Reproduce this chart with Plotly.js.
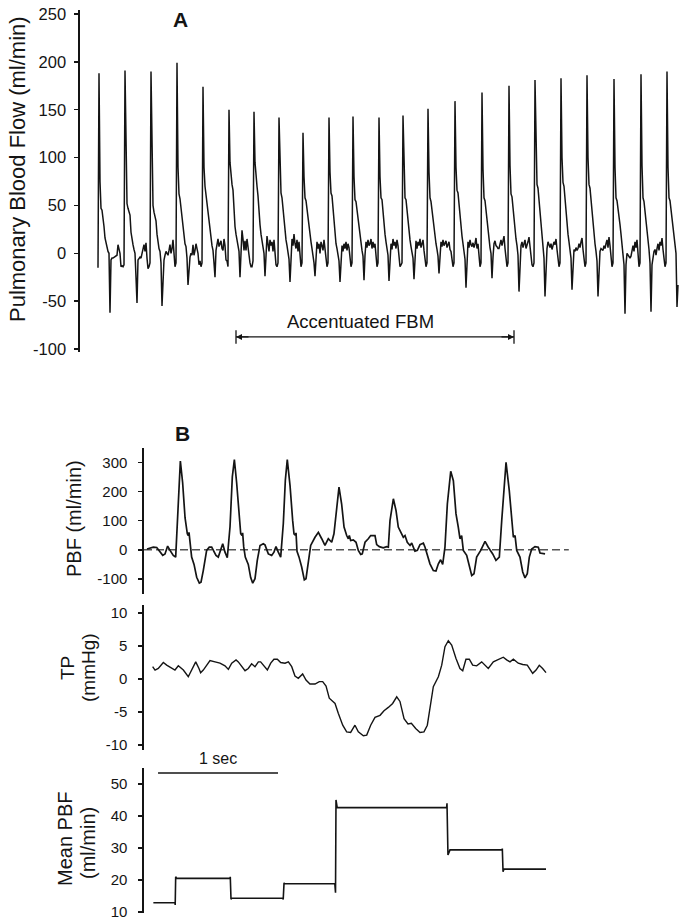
<!DOCTYPE html>
<html><head><meta charset="utf-8">
<script src="https://cdn.plot.ly/plotly-3.0.1.min.js"></script>
<style>html,body{margin:0;padding:0;background:#fff}#chart{width:685px;height:921px}</style>
</head><body><div id="chart"></div>
<script>
// ---------- Panel A: pulmonary blood flow, one sample per step ----------
const aSampleSec = 0.0175;
const aFlow = [-15,
 188,75,47,45,38,28,16,10,6,2,0,-62,-7,-5,-5,-4,-4,-3,-2,9,2,0,-14,-13,-14,-12,
 191,80,52,47,43,40,22,12,9,4,0,-25,-52,-7,-5,-4,-5,0,4,9,2,11,-5,-16,-14,-10,
 190,80,50,43,38,34,20,9,5,2,-10,-55,-20,-7,-2,2,0,-2,3,9,0,5,14,0,-14,-10,
 199,90,62,57,48,40,29,18,10,7,-5,-33,-10,-4,0,-2,9,-2,3,10,5,0,-12,-8,-14,-10,
 174,90,70,62,55,45,38,25,17,8,3,-10,-25,3,10,15,7,10,13,5,3,15,8,-7,-8,-14,
 150,95,80,72,66,40,28,20,14,6,2,-25,3,24,15,3,13,3,15,6,-4,-10,-14,-14,-8,
 148,95,76,70,60,42,30,20,12,5,0,-24,0,18,10,2,14,8,12,2,14,-2,-12,-14,-10,
 142,85,63,58,45,32,22,14,8,2,-6,-30,-2,15,8,20,10,5,14,2,12,-4,-14,-10,
 126,80,58,55,45,35,25,18,12,5,-2,-10,-24,0,12,5,10,0,12,8,3,14,6,-5,-14,-10,
 142,85,63,60,45,30,20,10,5,-2,-8,-30,-5,8,2,10,5,12,3,10,6,-5,-14,-10,
 143,80,56,54,45,35,25,18,10,3,-3,-28,-2,12,6,14,8,10,15,5,12,6,10,-5,-14,-10,
 142,80,58,56,42,30,20,12,5,-2,-29,-5,10,4,15,8,12,5,14,8,-3,-14,-12,-10,
 144,82,58,56,44,32,22,14,7,2,-5,-27,0,13,5,12,8,15,6,10,14,3,-6,-14,-10,
 151,85,58,54,44,34,25,17,10,4,-3,-21,0,12,7,14,8,10,13,6,9,12,4,2,-6,-14,-10,
 159,90,66,63,50,38,26,18,10,4,-6,-36,-4,12,6,14,9,7,11,6,10,16,5,10,-2,-14,-10,
 168,88,58,55,45,33,22,14,6,0,-26,-4,10,13,8,7,5,5,9,14,8,12,18,5,-4,-14,-10,
 175,92,62,59,46,35,24,15,8,-2,-40,-5,8,12,6,10,14,5,8,12,17,6,-2,-12,-14,-10,
 181,100,72,68,55,40,28,17,8,-5,-45,-8,5,12,8,6,10,4,8,12,9,15,4,-8,-14,-10,
 183,100,74,70,56,42,30,20,12,4,-5,-38,-8,4,2,6,3,5,10,6,12,16,4,-6,-14,-10,
 186,100,72,68,55,42,30,20,10,2,-8,-45,-10,2,5,4,3,8,5,10,14,6,17,8,-5,-14,-10,
 182,90,58,55,48,40,30,20,10,0,-12,-63,-12,0,-2,-4,-5,-3,5,8,2,12,6,14,0,-14,-10,
 187,92,58,54,45,35,24,14,4,-10,-61,-12,-4,2,4,-2,5,10,3,12,8,16,4,-5,-14,-10,
 190,90,58,55,45,38,30,20,10,0,-56,-33
];
const aTickVals = [-100,-50,0,50,100,150,200,250];
const aTickText = ['-100','-50','0','50','100','150','200','250'];
const fbmStartSample = 138, fbmEndSample = 416; // Accentuated FBM period
const fbmLabelSample = 262;

// ---------- Panel B ----------
const pbfT = [0.025,0.078,0.106,0.133,0.156,0.175,0.197,0.217,0.244,0.264,
 0.281,0.303,0.322,0.342,0.361,0.369,0.375,0.383,0.397,0.417,
 0.439,0.461,0.475,0.494,0.522,0.544,0.564,0.600,0.619,0.656,
 0.675,0.694,0.717,0.736,0.753,0.772,0.794,0.806,0.817,0.822,
 0.831,0.844,0.869,0.889,0.906,0.925,0.944,0.967,0.994,1.008,
 1.036,1.064,1.083,1.100,1.119,1.139,1.161,1.178,1.194,1.217,
 1.239,1.250,1.261,1.267,1.275,1.292,1.314,1.336,1.350,1.369,
 1.389,1.425,1.453,1.481,1.508,1.536,1.564,1.583,1.606,1.625,
 1.647,1.667,1.689,1.703,1.711,1.722,1.744,1.767,1.786,1.806,
 1.819,1.842,1.869,1.889,1.925,1.939,1.961,1.994,2.022,2.036,
 2.050,2.078,2.100,2.119,2.147,2.161,2.175,2.194,2.217,2.231,
 2.258,2.278,2.300,2.328,2.342,2.361,2.383,2.411,2.433,2.453,
 2.472,2.489,2.508,2.528,2.556,2.578,2.600,2.619,2.633,2.647,
 2.661,2.689,2.711,2.731,2.750,2.772,2.806,2.842,2.869,2.906,
 2.933,2.961,2.981,3.017,3.044,3.064,3.078,3.092,3.106,3.133,
 3.156,3.175,3.194,3.211,3.231,3.258,3.286,3.300,3.342];
const pbfV = [3,9,8,-8,-19,-14,13,-2,-19,-25,
 100,304,230,110,55,49,60,20,-25,-50,
 -94,-114,-111,-71,-2,9,9,-19,-25,21,
 -8,-27,80,250,309,230,110,55,49,58,
 10,-25,-50,-95,-114,-99,-36,15,21,17,
 -14,-19,-8,11,-8,-25,90,240,309,220,
 100,55,50,58,-5,-25,-59,-103,-99,-48,
 15,43,60,38,15,38,26,55,150,215,
 157,78,49,38,49,32,34,26,-2,-16,
 -14,26,38,49,49,18,11,7,11,9,
 100,175,135,78,55,43,49,26,15,23,
 -5,-2,18,23,9,-19,-48,-71,-73,-48,
 -34,-50,9,158,269,237,123,78,38,49,
 -2,-19,-59,-88,-82,-25,-2,29,9,-14,
 -36,-25,100,300,203,100,43,49,-2,-25,
 -76,-96,-82,-25,3,11,9,-11,-14];
const pbfZeroT = [0, 3.54];
const pbfZeroV = [0, 0];
const pbfTickVals = [-100,0,100,200,300];
const pbfTickText = ['-100','0','100','200','300'];

const tpT = [0.072,0.092,0.119,0.161,0.189,0.231,0.258,0.286,0.328,0.369,
 0.397,0.431,0.458,0.472,0.494,0.522,0.550,0.592,0.633,0.675,
 0.703,0.731,0.767,0.786,0.814,0.842,0.869,0.897,0.925,0.953,
 0.972,1.000,1.028,1.056,1.083,1.111,1.139,1.175,1.203,1.231,
 1.258,1.286,1.322,1.350,1.383,1.425,1.461,1.489,1.517,1.544,
 1.592,1.619,1.656,1.689,1.722,1.758,1.786,1.828,1.856,1.889,
 1.925,1.967,2.000,2.036,2.072,2.106,2.133,2.167,2.200,2.228,
 2.264,2.300,2.333,2.361,2.383,2.411,2.453,2.481,2.508,2.536,
 2.564,2.600,2.633,2.656,2.683,2.711,2.739,2.772,2.814,2.842,
 2.869,2.911,2.953,2.994,3.022,3.050,3.078,3.119,3.156,3.194,
 3.239,3.267,3.294,3.322,3.350];
const tpV = [1.87,1.36,1.6,2.5,2.1,1.6,1.36,2.0,1.36,0.35,
 1.36,2.6,1.6,0.96,1.36,2.1,2.8,2.6,2.4,2.0,
 1.46,2.4,2.9,2.6,1.87,1.26,1.6,2.3,1.87,2.6,
 2.6,2.0,1.36,2.4,3.0,3.0,2.5,2.4,2.6,1.87,
 0.45,0.1,0.76,-0.15,-0.76,-0.76,-0.4,-0.4,-1.06,-2.9,
 -3.7,-5.2,-7.0,-8.0,-8.1,-7.0,-8.0,-8.6,-8.5,-7.0,
 -5.8,-5.5,-4.8,-4.3,-3.7,-2.7,-3.4,-6.0,-6.8,-6.7,
 -7.5,-8.1,-8.0,-7.0,-4.2,-1.16,0.35,2.1,4.9,5.8,
 5.15,3.1,1.6,1.26,3.0,3.0,2.1,2.0,2.6,2.1,
 1.6,2.6,3.0,3.3,2.9,2.6,3.0,2.4,2.2,2.1,
 0.86,1.36,2.07,1.6,0.96];
const tpTickVals = [-10,-5,0,5,10];
const tpTickText = ['-10','-5','0','5','10'];

const meanT = [0.078,0.258,0.260,0.264,0.272,0.717,0.719,0.725,0.731,1.158,1.160,1.167,1.172,
 1.590,1.596,1.600,1.610,2.522,2.525,2.533,2.550,2.983,2.986,2.992,3.000,3.350];
const meanV = [12.9,12.9,12.2,21.0,20.5,20.5,21.0,14.0,14.3,14.3,13.9,19.1,18.8,
 18.8,16.0,45.0,42.6,42.6,44.0,27.8,29.4,29.4,29.8,22.6,23.4,23.4];
const meanTickVals = [10,20,30,40,50];
const meanTickText = ['10','20','30','40','50'];

const scaleBarSec = [0.117, 1.117];

// ---------- drawing ----------
const W = 685, H = 921;
const FONT = 'Liberation Sans, Arial, Helvetica, sans-serif';
const INK = '#141414';
const aTime = aFlow.map((v, i) => i * aSampleSec);
const py = p => 1 - p / H;   // pixel row -> paper fraction
const px = p => p / W;

const traces = [
  {x: aTime, y: aFlow, xaxis: 'x', yaxis: 'y', mode: 'lines', line: {color: INK, width: 1.5}, hoverinfo: 'skip'},
  {x: pbfZeroT, y: pbfZeroV, xaxis: 'x2', yaxis: 'y2', mode: 'lines', line: {color: '#555', width: 1.5, dash: '8px,4px'}, hoverinfo: 'skip'},
  {x: pbfT, y: pbfV, xaxis: 'x2', yaxis: 'y2', mode: 'lines', line: {color: INK, width: 1.7}, hoverinfo: 'skip'},
  {x: tpT, y: tpV, xaxis: 'x2', yaxis: 'y3', mode: 'lines', line: {color: INK, width: 1.4}, hoverinfo: 'skip'},
  {x: meanT, y: meanV, xaxis: 'x2', yaxis: 'y4', mode: 'lines', line: {color: INK, width: 1.6}, hoverinfo: 'skip'}
];

function yAxis(domain, range, vals, text, size, standoff) {
  return {domain: domain, range: range, tickmode: 'array', tickvals: vals, ticktext: text,
    showline: true, linecolor: INK, linewidth: 1.6, ticks: 'outside', ticklen: 4, tickwidth: 1.4, tickcolor: INK,
    showgrid: false, zeroline: false, fixedrange: true, ticklabelstandoff: standoff,
    tickfont: {family: FONT, size: size, color: INK}};
}

function label(text, x, y, size, angle) {
  return {text: text, xref: 'paper', yref: 'paper', x: x, y: y, xanchor: 'center', yanchor: 'middle',
    textangle: angle || 0, showarrow: false, font: {size: size, family: FONT, color: INK}};
}

const layout = {
  width: W, height: H, margin: {l: 0, r: 0, t: 0, b: 0},
  paper_bgcolor: '#fff', plot_bgcolor: 'rgba(0,0,0,0)', showlegend: false,
  font: {family: FONT, color: INK},
  xaxis: {domain: [px(80), px(682)], range: [-18 * aSampleSec, 584 * aSampleSec], visible: false, anchor: 'y'},
  yaxis: Object.assign(yAxis([py(351.9), py(10.2)], [-103, 254], aTickVals, aTickText, 16.5, 5), {anchor: 'x'}),
  xaxis2: {domain: [px(144), px(575)], range: [0, 3.5917], visible: false, anchor: 'y2'},
  yaxis2: Object.assign(yAxis([py(593.6), py(447.7)], [-150, 350], pbfTickVals, pbfTickText, 15, 8), {anchor: 'x2'}),
  yaxis3: Object.assign(yAxis([py(750.3), py(605.1)], [-10.8, 11.2], tpTickVals, tpTickText, 15, 8), {anchor: 'x2'}),
  yaxis4: Object.assign(yAxis([py(912.6), py(768)], [9.8, 55], meanTickVals, meanTickText, 15, 8), {anchor: 'x2'}),
  shapes: [
    {type: 'line', xref: 'x', yref: 'y', x0: fbmStartSample * aSampleSec, x1: fbmEndSample * aSampleSec, y0: -87.4, y1: -87.4, line: {color: INK, width: 1.2}},
    {type: 'line', xref: 'x', yref: 'y', x0: fbmStartSample * aSampleSec, x1: fbmStartSample * aSampleSec, y0: -80.5, y1: -94.5, line: {color: INK, width: 1.3}},
    {type: 'line', xref: 'x', yref: 'y', x0: fbmEndSample * aSampleSec, x1: fbmEndSample * aSampleSec, y0: -80.5, y1: -94.5, line: {color: INK, width: 1.3}},
    {type: 'line', xref: 'x2', yref: 'paper', x0: scaleBarSec[0], x1: scaleBarSec[1], y0: py(773), y1: py(773), line: {color: INK, width: 1.4}}
  ],
  annotations: [
    label('<b>A</b>', px(180), py(19), 21),
    label('Pulmonary Blood Flow (ml/min)', px(18), py(169), 22, -90),
    {text: 'Accentuated FBM', xref: 'x', yref: 'y', x: fbmLabelSample * aSampleSec, y: -71, xanchor: 'center', yanchor: 'middle', showarrow: false, font: {size: 18.5, family: FONT, color: INK}},
    {text: '', xref: 'x', yref: 'y', x: fbmStartSample * aSampleSec, y: -87.4, ax: 14, ay: 0, showarrow: true, arrowhead: 2, arrowsize: 1, arrowwidth: 1.2, arrowcolor: INK, standoff: 0},
    {text: '', xref: 'x', yref: 'y', x: fbmEndSample * aSampleSec, y: -87.4, ax: -14, ay: 0, showarrow: true, arrowhead: 2, arrowsize: 1, arrowwidth: 1.2, arrowcolor: INK, standoff: 0},
    label('<b>B</b>', px(182), py(433), 21),
    label('PBF (ml/min)', px(74), py(519), 20, -90),
    label('TP', px(67), py(668), 19, -90),
    label('(mmHg)', px(88), py(668), 19, -90),
    label('Mean PBF', px(65), py(839), 20, -90),
    label('(ml/min)', px(88), py(843), 20, -90),
    {text: '1 sec', xref: 'x2', yref: 'paper', x: (scaleBarSec[0] + scaleBarSec[1]) / 2, y: py(758), xanchor: 'center', yanchor: 'middle', showarrow: false, font: {size: 16, family: FONT, color: INK}}
  ]
};

Plotly.newPlot('chart', traces, layout, {staticPlot: true, displayModeBar: false});
</script>
</body></html>
